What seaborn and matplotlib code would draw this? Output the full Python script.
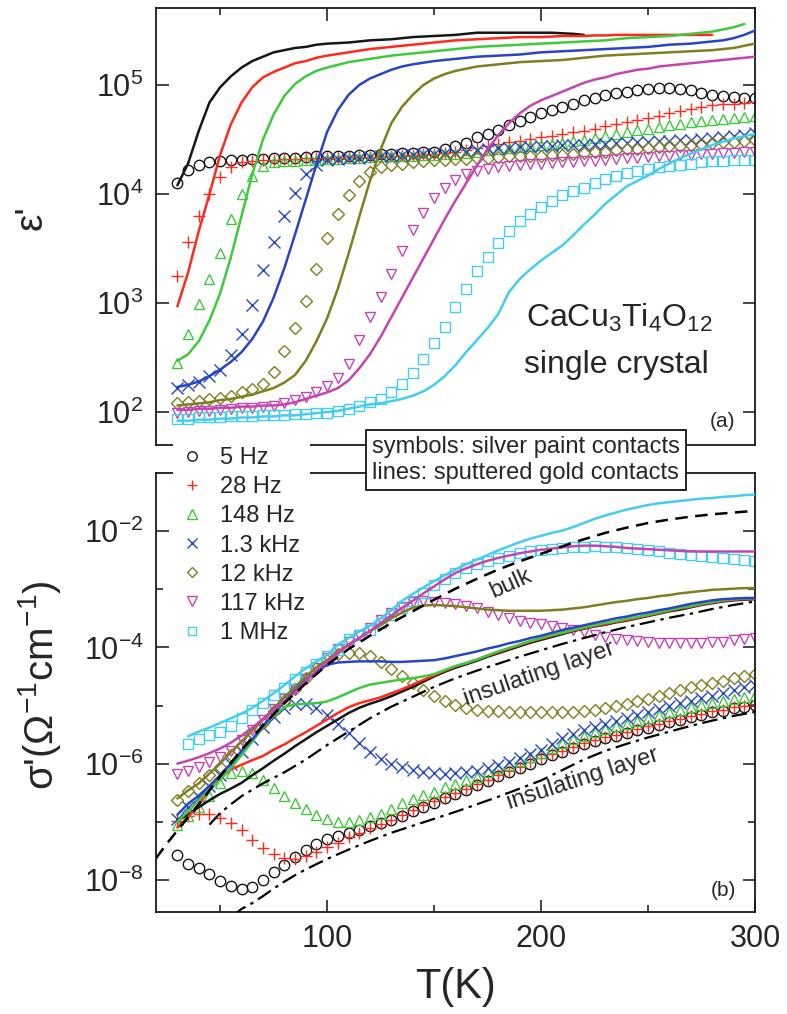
import numpy as np
import matplotlib
matplotlib.use("Agg")
import matplotlib.pyplot as plt
import seaborn as sns
from matplotlib.lines import Line2D
from matplotlib.ticker import FixedLocator, NullLocator, NullFormatter, LogFormatterMathtext

nan = np.nan

# --- temperatures (K) for all measured curves ---
temps = np.arange(30, 301, 5)

freq_labels = ["5 Hz", "28 Hz", "148 Hz", "1.3 kHz", "12 kHz", "117 kHz", "1 MHz"]

# --- panel (a): log10(eps'), lines = sputtered gold contacts ---
eps_line_5Hz = [4.08, 4.28, 4.58, 4.84, 4.98, 5.08, 5.16, 5.22, 5.26, 5.30, 5.32,
                5.34, 5.35, 5.37, 5.38, 5.385, 5.39, 5.40, 5.41, 5.415, 5.42, 5.43,
                5.44, 5.445, 5.45, 5.455, 5.46, 5.47, 5.48, 5.48, 5.48, 5.48, 5.48,
                5.48, 5.48, 5.48, 5.475, 5.47, 5.46, nan, nan, nan, nan, nan,
                nan, nan, nan, nan, nan, nan, nan, nan, nan, nan, nan]
eps_line_28Hz = [2.97, 3.28, 3.66, 4.00, 4.36, 4.64, 4.84, 4.98, 5.07, 5.12, 5.16,
                 5.20, 5.22, 5.25, 5.27, 5.285, 5.30, 5.315, 5.33, 5.34, 5.35, 5.36,
                 5.37, 5.38, 5.39, 5.40, 5.41, 5.415, 5.42, 5.425, 5.43, 5.435, 5.44,
                 5.44, 5.44, 5.445, 5.45, 5.45, 5.45, 5.455, 5.455, 5.46, 5.46, 5.46,
                 5.46, 5.46, 5.46, 5.46, 5.46, 5.46, 5.46, nan, nan, nan, nan]
eps_line_148Hz = [2.47, 2.53, 2.65, 2.84, 3.09, 3.42, 3.80, 4.18, 4.50, 4.73, 4.90,
                  5.01, 5.08, 5.13, 5.16, 5.185, 5.21, 5.225, 5.24, 5.255, 5.27, 5.28,
                  5.29, 5.30, 5.31, 5.32, 5.33, 5.34, 5.35, 5.355, 5.36, 5.365, 5.37,
                  5.375, 5.38, 5.385, 5.39, 5.395, 5.40, 5.405, 5.41, 5.42, 5.43, 5.435,
                  5.44, 5.445, 5.45, 5.46, 5.47, 5.48, 5.49, 5.51, 5.53, 5.56, nan]
eps_line_1k3 = [2.23, 2.25, 2.28, 2.33, 2.39, 2.46, 2.55, 2.67, 2.83, 3.05, 3.32,
                3.63, 3.95, 4.27, 4.57, 4.77, 4.91, 5.00, 5.06, 5.10, 5.14, 5.17,
                5.19, 5.205, 5.22, 5.23, 5.24, 5.25, 5.26, 5.265, 5.27, 5.275, 5.28,
                5.29, 5.30, 5.305, 5.31, 5.315, 5.32, 5.325, 5.33, 5.335, 5.34, 5.345,
                5.35, 5.36, 5.37, 5.375, 5.38, 5.39, 5.40, 5.41, 5.43, 5.46, 5.50]
eps_line_12k = [2.06, 2.07, 2.08, 2.09, 2.11, 2.12, 2.14, 2.16, 2.19, 2.22, 2.27,
                2.34, 2.47, 2.65, 2.86, 3.13, 3.45, 3.79, 4.12, 4.41, 4.65, 4.80,
                4.91, 5.00, 5.06, 5.10, 5.13, 5.15, 5.17, 5.18, 5.19, 5.20, 5.21,
                5.215, 5.22, 5.225, 5.23, 5.24, 5.25, 5.26, 5.27, 5.275, 5.28, 5.285,
                5.29, 5.295, 5.30, 5.305, 5.31, 5.315, 5.32, 5.33, 5.34, 5.36, 5.38]
eps_line_117k = [2.02, 2.02, 2.03, 2.03, 2.04, 2.04, 2.05, 2.05, 2.06, 2.06, 2.07,
                 2.09, 2.12, 2.15, 2.18, 2.22, 2.29, 2.40, 2.53, 2.69, 2.87, 3.05,
                 3.23, 3.41, 3.59, 3.77, 3.94, 4.10, 4.26, 4.41, 4.54, 4.65, 4.74,
                 4.81, 4.86, 4.90, 4.94, 4.98, 5.02, 5.05, 5.07, 5.10, 5.12, 5.14,
                 5.15, 5.17, 5.18, 5.19, 5.20, 5.21, 5.22, 5.23, 5.24, 5.25, 5.26]
eps_line_1M = [1.92, 1.92, 1.93, 1.93, 1.94, 1.94, 1.95, 1.95, 1.96, 1.96, 1.97,
               1.97, 1.98, 1.99, 2.00, 2.01, 2.03, 2.05, 2.07, 2.08, 2.10, 2.12,
               2.15, 2.19, 2.25, 2.33, 2.43, 2.55, 2.66, 2.77, 2.90, 3.10, 3.22,
               3.31, 3.39, 3.46, 3.53, 3.62, 3.72, 3.81, 3.91, 3.99, 4.07, 4.12,
               4.17, 4.23, 4.28, 4.33, 4.37, 4.41, 4.45, 4.48, 4.51, 4.53, 4.55]

# --- panel (a): log10(eps'), symbols = silver paint contacts ---
eps_sym_5Hz = [4.10, 4.22, 4.27, 4.29, 4.30, 4.31, 4.31, 4.32, 4.32, 4.33, 4.33,
               4.335, 4.34, 4.345, 4.35, 4.35, 4.35, 4.355, 4.36, 4.365, 4.37, 4.375,
               4.38, 4.385, 4.39, 4.41, 4.44, 4.47, 4.52, 4.55, 4.59, 4.63, 4.67,
               4.71, 4.74, 4.77, 4.80, 4.83, 4.86, 4.88, 4.91, 4.93, 4.94, 4.95,
               4.96, 4.97, 4.97, 4.96, 4.95, 4.93, 4.91, 4.90, 4.89, 4.88, 4.88]
eps_sym_28Hz = [3.25, 3.56, 3.80, 4.00, 4.16, 4.25, 4.29, 4.30, 4.31, 4.315, 4.32,
                4.325, 4.33, 4.33, 4.33, 4.335, 4.34, 4.34, 4.34, 4.345, 4.35, 4.355,
                4.36, 4.365, 4.37, 4.38, 4.39, 4.405, 4.42, 4.44, 4.46, 4.475, 4.49,
                4.505, 4.52, 4.535, 4.55, 4.565, 4.58, 4.60, 4.62, 4.64, 4.66, 4.68,
                4.70, 4.72, 4.74, 4.76, 4.78, 4.80, 4.82, 4.825, 4.83, 4.835, 4.84]
eps_sym_148Hz = [2.45, 2.72, 2.99, 3.22, 3.46, 3.77, 4.00, 4.17, 4.26, 4.29, 4.30,
                 4.305, 4.31, 4.315, 4.32, 4.325, 4.33, 4.335, 4.34, 4.345, 4.35, 4.35,
                 4.35, 4.355, 4.36, 4.365, 4.37, 4.38, 4.39, 4.40, 4.41, 4.42, 4.43,
                 4.44, 4.45, 4.46, 4.47, 4.485, 4.50, 4.515, 4.53, 4.55, 4.57, 4.585,
                 4.60, 4.615, 4.63, 4.645, 4.66, 4.67, 4.68, 4.69, 4.70, 4.71, 4.72]
eps_sym_1k3 = [2.22, 2.25, 2.28, 2.33, 2.39, 2.52, 2.72, 2.98, 3.30, 3.56, 3.80,
               4.01, 4.18, 4.27, 4.31, 4.32, 4.33, 4.335, 4.34, 4.345, 4.35, 4.355,
               4.36, 4.365, 4.37, 4.375, 4.38, 4.39, 4.40, 4.41, 4.42, 4.425, 4.43,
               4.435, 4.44, 4.445, 4.45, 4.45, 4.45, 4.455, 4.46, 4.465, 4.47, 4.475,
               4.48, 4.485, 4.49, 4.495, 4.50, 4.505, 4.51, 4.52, 4.53, 4.545, 4.56]
eps_sym_12k = [2.08, 2.09, 2.10, 2.12, 2.13, 2.15, 2.18, 2.21, 2.26, 2.37, 2.56,
               2.77, 3.02, 3.31, 3.60, 3.82, 3.99, 4.12, 4.20, 4.25, 4.27, 4.28,
               4.29, 4.30, 4.31, 4.315, 4.32, 4.325, 4.33, 4.335, 4.34, 4.345, 4.35,
               4.35, 4.35, 4.355, 4.36, 4.37, 4.38, 4.385, 4.39, 4.40, 4.41, 4.415,
               4.42, 4.43, 4.44, 4.445, 4.45, 4.46, 4.47, 4.475, 4.48, 4.49, 4.50]
eps_sym_117k = [1.99, 2.00, 2.01, 2.01, 2.02, 2.03, 2.04, 2.04, 2.05, 2.06, 2.08,
                2.11, 2.14, 2.18, 2.24, 2.31, 2.44, 2.66, 2.87, 3.06, 3.27, 3.48,
                3.67, 3.83, 3.96, 4.06, 4.13, 4.18, 4.21, 4.23, 4.25, 4.26, 4.27,
                4.275, 4.28, 4.285, 4.29, 4.295, 4.30, 4.305, 4.31, 4.32, 4.33, 4.335,
                4.34, 4.345, 4.35, 4.355, 4.36, 4.365, 4.37, 4.375, 4.38, 4.385, 4.39]
eps_sym_1M = [1.94, 1.94, 1.95, 1.95, 1.95, 1.96, 1.96, 1.96, 1.97, 1.97, 1.97,
              1.98, 1.98, 1.99, 1.99, 2.01, 2.03, 2.06, 2.09, 2.12, 2.18, 2.26,
              2.36, 2.49, 2.63, 2.78, 2.96, 3.13, 3.29, 3.42, 3.55, 3.66, 3.75,
              3.82, 3.88, 3.94, 3.99, 4.03, 4.06, 4.10, 4.14, 4.17, 4.19, 4.21,
              4.23, 4.245, 4.26, 4.27, 4.28, 4.29, 4.30, 4.305, 4.31, 4.31, 4.31]

# --- panel (b): log10(sigma'), lines ---
sig_line_5Hz = [-6.98, -6.88, -6.75, -6.63, -6.52, -6.43, -6.33, -6.20, -6.08, -5.95, -5.83,
                -5.70, -5.58, -5.46, -5.35, -5.24, -5.13, -5.04, -4.97, -4.91, -4.84, -4.76,
                -4.68, -4.59, -4.50, -4.42, -4.35, -4.29, -4.23, -4.16, -4.10, -4.04, -3.98,
                -3.92, -3.87, -3.82, -3.77, -3.72, -3.68, -3.64, -3.61, -3.57, -3.54, -3.50,
                -3.46, -3.42, -3.38, -3.35, -3.31, -3.27, -3.24, -3.21, -3.19, -3.18, -3.17]
sig_line_28Hz = [-7.10, -6.92, -6.70, -6.45, -6.25, -6.10, -6.02, -5.94, -5.87, -5.76, -5.67,
                 -5.56, -5.46, -5.35, -5.24, -5.13, -5.03, -4.96, -4.91, -4.86, -4.79, -4.72,
                 -4.64, -4.56, -4.48, -4.40, -4.33, -4.27, -4.21, -4.14, -4.08, -4.02, -3.96,
                 -3.90, -3.85, -3.80, -3.75, -3.71, -3.67, -3.63, -3.60, -3.56, -3.53, -3.49,
                 -3.45, -3.41, -3.37, -3.33, -3.30, -3.26, -3.23, -3.20, -3.18, -3.17, -3.16]
sig_line_148Hz = [-7.00, -6.82, -6.63, -6.45, -6.28, -6.08, -5.85, -5.62, -5.38, -5.17, -5.03,
                  -4.98, -4.97, -4.96, -4.93, -4.86, -4.78, -4.70, -4.64, -4.61, -4.58, -4.55,
                  -4.53, -4.50, -4.46, -4.39, -4.32, -4.27, -4.21, -4.14, -4.07, -4.01, -3.95,
                  -3.89, -3.84, -3.79, -3.75, -3.70, -3.66, -3.62, -3.58, -3.55, -3.51, -3.48,
                  -3.44, -3.40, -3.36, -3.32, -3.29, -3.25, -3.22, -3.19, -3.17, -3.16, -3.15]
sig_line_1k3 = [-6.88, -6.69, -6.55, -6.38, -6.20, -6.00, -5.78, -5.58, -5.36, -5.15, -4.93,
                -4.74, -4.56, -4.42, -4.30, -4.26, -4.25, -4.24, -4.24, -4.24, -4.25, -4.25,
                -4.24, -4.23, -4.22, -4.19, -4.15, -4.11, -4.07, -4.02, -3.98, -3.93, -3.89,
                -3.84, -3.80, -3.75, -3.70, -3.66, -3.62, -3.58, -3.54, -3.50, -3.47, -3.43,
                -3.40, -3.36, -3.33, -3.29, -3.25, -3.22, -3.19, -3.17, -3.16, -3.15, -3.15]
sig_line_12k = [-6.60, -6.46, -6.34, -6.17, -6.00, -5.80, -5.62, -5.43, -5.24, -5.05, -4.86,
                -4.68, -4.50, -4.34, -4.22, -4.08, -3.95, -3.84, -3.72, -3.62, -3.50, -3.40,
                -3.32, -3.28, -3.27, -3.28, -3.29, -3.31, -3.33, -3.35, -3.36, -3.37, -3.37,
                -3.37, -3.37, -3.36, -3.35, -3.33, -3.31, -3.28, -3.25, -3.22, -3.20, -3.17,
                -3.15, -3.12, -3.10, -3.07, -3.05, -3.03, -3.01, -3.00, -2.99, -2.98, -2.98]
sig_line_117k = [-6.00, -5.95, -5.89, -5.82, -5.74, -5.64, -5.52, -5.38, -5.24, -5.08, -4.93,
                 -4.77, -4.58, -4.40, -4.25, -4.10, -3.96, -3.84, -3.72, -3.58, -3.45, -3.32,
                 -3.20, -3.07, -2.95, -2.83, -2.72, -2.64, -2.57, -2.51, -2.46, -2.42, -2.38,
                 -2.35, -2.32, -2.30, -2.28, -2.26, -2.25, -2.25, -2.26, -2.27, -2.29, -2.30,
                 -2.31, -2.32, -2.33, -2.34, -2.35, -2.35, -2.35, -2.35, -2.35, -2.35, -2.35]
sig_line_1M = [nan, -5.53, -5.45, -5.38, -5.30, -5.22, -5.14, -5.04, -4.92, -4.79, -4.65,
               -4.50, -4.36, -4.24, -4.13, -3.95, -3.84, -3.73, -3.63, -3.50, -3.36, -3.20,
               -3.08, -2.97, -2.86, -2.76, -2.66, -2.57, -2.49, -2.41, -2.33, -2.26, -2.19,
               -2.13, -2.08, -2.03, -1.99, -1.93, -1.86, -1.79, -1.73, -1.68, -1.63, -1.59,
               -1.55, -1.52, -1.50, -1.48, -1.46, -1.44, -1.43, -1.41, -1.40, -1.38, -1.37]

# --- panel (b): log10(sigma'), symbols ---
sig_sym_5Hz = [-7.58, -7.72, -7.80, -7.90, -8.02, -8.10, -8.16, -8.12, -8.00, -7.87, -7.74,
               -7.61, -7.49, -7.38, -7.29, -7.24, -7.20, -7.15, -7.08, -7.02, -6.97, -6.90,
               -6.82, -6.75, -6.67, -6.60, -6.52, -6.45, -6.37, -6.30, -6.22, -6.15, -6.07,
               -6.00, -5.92, -5.86, -5.80, -5.73, -5.66, -5.61, -5.56, -5.52, -5.47, -5.43,
               -5.38, -5.34, -5.29, -5.25, -5.20, -5.16, -5.12, -5.09, -5.05, -5.02, -4.99]
sig_sym_28Hz = [-6.98, -6.90, -6.86, -6.87, -6.93, -7.02, -7.14, -7.31, -7.45, -7.56, -7.62,
                -7.64, -7.59, -7.52, -7.44, -7.36, -7.27, -7.19, -7.11, -7.04, -6.97, -6.89,
                -6.80, -6.72, -6.65, -6.58, -6.50, -6.43, -6.35, -6.28, -6.20, -6.13, -6.05,
                -5.98, -5.90, -5.84, -5.78, -5.71, -5.64, -5.59, -5.54, -5.50, -5.45, -5.41,
                -5.36, -5.32, -5.27, -5.23, -5.18, -5.14, -5.10, -5.07, -5.03, -5.00, -4.97]
sig_sym_148Hz = [-7.06, -6.90, -6.75, -6.55, -6.33, -6.16, -6.12, -6.16, -6.28, -6.42, -6.56,
                 -6.67, -6.78, -6.88, -6.95, -7.00, -7.00, -6.97, -6.92, -6.86, -6.78, -6.68,
                 -6.61, -6.54, -6.48, -6.41, -6.35, -6.29, -6.23, -6.15, -6.08, -6.02, -5.95,
                 -5.88, -5.81, -5.73, -5.65, -5.58, -5.52, -5.46, -5.40, -5.35, -5.31, -5.26,
                 -5.21, -5.17, -5.12, -5.08, -5.03, -4.99, -4.96, -4.92, -4.89, -4.85, -4.82]
sig_sym_1k3 = [-6.95, -6.75, -6.57, -6.38, -6.20, -6.00, -5.80, -5.57, -5.37, -5.19, -5.05,
               -4.97, -4.98, -5.05, -5.17, -5.32, -5.48, -5.64, -5.80, -5.92, -6.00, -6.06,
               -6.11, -6.14, -6.16, -6.17, -6.16, -6.14, -6.12, -6.08, -6.03, -5.97, -5.91,
               -5.84, -5.76, -5.66, -5.56, -5.49, -5.42, -5.37, -5.32, -5.27, -5.22, -5.17,
               -5.11, -5.06, -5.01, -4.96, -4.92, -4.87, -4.83, -4.78, -4.73, -4.69, -4.65]
sig_sym_12k = [-6.62, -6.47, -6.34, -6.20, -6.05, -5.85, -5.68, -5.48, -5.30, -5.10, -4.92,
               -4.72, -4.52, -4.36, -4.22, -4.12, -4.09, -4.10, -4.15, -4.25, -4.38, -4.50,
               -4.62, -4.73, -4.83, -4.93, -4.99, -5.04, -5.07, -5.09, -5.10, -5.11, -5.11,
               -5.11, -5.11, -5.12, -5.12, -5.11, -5.10, -5.07, -5.04, -5.01, -4.97, -4.93,
               -4.88, -4.84, -4.79, -4.74, -4.69, -4.65, -4.61, -4.57, -4.53, -4.49, -4.45]
sig_sym_117k = [-6.17, -6.12, -6.06, -5.98, -5.89, -5.78, -5.60, -5.42, -5.25, -5.06, -4.88,
                -4.72, -4.55, -4.35, -4.18, -4.03, -3.90, -3.78, -3.66, -3.53, -3.40, -3.30,
                -3.22, -3.20, -3.22, -3.24, -3.26, -3.29, -3.33, -3.39, -3.45, -3.50, -3.55,
                -3.58, -3.60, -3.63, -3.66, -3.70, -3.74, -3.78, -3.82, -3.85, -3.87, -3.89,
                -3.91, -3.92, -3.93, -3.93, -3.93, -3.92, -3.91, -3.90, -3.88, -3.86, -3.84]
sig_sym_1M = [nan, -5.66, -5.58, -5.51, -5.45, -5.35, -5.22, -5.08, -4.95, -4.82, -4.70,
              -4.55, -4.42, -4.28, -4.15, -4.05, -3.86, -3.78, -3.70, -3.58, -3.45, -3.33,
              -3.20, -3.06, -2.93, -2.82, -2.72, -2.64, -2.57, -2.51, -2.46, -2.42, -2.38,
              -2.35, -2.32, -2.30, -2.29, -2.28, -2.27, -2.26, -2.27, -2.28, -2.29, -2.31,
              -2.33, -2.35, -2.37, -2.39, -2.41, -2.43, -2.44, -2.46, -2.48, -2.50, -2.52]

# --- reference curves in panel (b) ---
bulk_T = [20, 25, 30, 40, 50, 60, 70, 80, 90, 100, 110, 120, 130, 140, 150, 160, 170,
          180, 190, 200, 210, 220, 230, 240, 250, 260, 270, 280, 290, 300]
bulk_sig = [-7.63, -7.38, -7.15, -6.70, -6.22, -5.76, -5.34, -4.96, -4.62, -4.30, -4.03,
            -3.80, -3.58, -3.38, -3.18, -2.99, -2.82, -2.66, -2.52, -2.39, -2.26, -2.14,
            -2.03, -1.94, -1.86, -1.80, -1.75, -1.71, -1.68, -1.65]
layer1_T = [45, 50, 55, 60, 70, 80, 90, 100, 110, 120, 130, 140, 150, 160, 170, 180,
            190, 200, 210, 220, 230, 240, 250, 260, 270, 280, 290, 300]
layer1_sig = [-7.05, -6.85, -6.70, -6.56, -6.34, -6.15, -5.93, -5.68, -5.45, -5.22, -5.02,
              -4.85, -4.68, -4.53, -4.40, -4.28, -4.16, -4.05, -3.94, -3.84, -3.74, -3.65,
              -3.57, -3.49, -3.42, -3.34, -3.27, -3.21]
layer2_T = [56, 60, 65, 70, 75, 80, 85, 90, 95, 100, 110, 120, 130, 140, 150, 160, 170,
            180, 190, 200, 210, 220, 230, 240, 250, 260, 270, 280, 290, 300]
layer2_sig = [-8.62, -8.50, -8.40, -8.28, -8.15, -8.03, -7.92, -7.82, -7.73, -7.64, -7.48,
              -7.33, -7.19, -7.07, -6.95, -6.83, -6.70, -6.57, -6.43, -6.29, -6.11, -5.93,
              -5.78, -5.66, -5.55, -5.45, -5.35, -5.26, -5.18, -5.11]

eps_lines = [eps_line_5Hz, eps_line_28Hz, eps_line_148Hz, eps_line_1k3, eps_line_12k, eps_line_117k, eps_line_1M]
eps_syms = [eps_sym_5Hz, eps_sym_28Hz, eps_sym_148Hz, eps_sym_1k3, eps_sym_12k, eps_sym_117k, eps_sym_1M]
sig_lines = [sig_line_5Hz, sig_line_28Hz, sig_line_148Hz, sig_line_1k3, sig_line_12k, sig_line_117k, sig_line_1M]
sig_syms = [sig_sym_5Hz, sig_sym_28Hz, sig_sym_148Hz, sig_sym_1k3, sig_sym_12k, sig_sym_117k, sig_sym_1M]

colors = ["#161616", "#ff2a1c", "#3fc93c", "#2846c4", "#7f7f20", "#c444b2", "#44cdee"]
markers = ["o", "+", "^", "x", "D", "v", "s"]
msizes = [7.5, 8.5, 7.5, 8, 6, 7.5, 6.5]

sns.set_theme(style="ticks")
plt.rcParams["font.family"] = ["Liberation Sans", "DejaVu Sans"]
plt.rcParams["mathtext.fontset"] = "custom"
plt.rcParams["mathtext.rm"] = "Liberation Sans"
plt.rcParams["mathtext.it"] = "Liberation Sans:italic"
plt.rcParams["mathtext.bf"] = "Liberation Sans:bold"

fig = plt.figure(figsize=(7.87, 10.14), dpi=100)
ax1 = fig.add_axes([0.1982, 0.5611, 0.7611, 0.4310])
ax2 = fig.add_axes([0.1982, 0.1006, 0.7611, 0.4329])
for ax in (ax1, ax2):
    ax.set_yscale("log")


def draw_symbols(ax, vals, color, marker, ms):
    open_marker = marker not in ("+", "x")
    sns.lineplot(x=temps, y=np.power(10.0, np.asarray(vals, dtype=float)), ax=ax,
                 estimator=None, sort=False, linestyle="", marker=marker, markersize=ms,
                 markerfacecolor="none" if open_marker else color, markeredgecolor=color,
                 markeredgewidth=1.0, color=color, zorder=2)


def draw_line(ax, vals, color):
    sns.lineplot(x=temps, y=np.power(10.0, np.asarray(vals, dtype=float)), ax=ax,
                 estimator=None, sort=False, color=color, linewidth=1.8, zorder=3)


for i in range(7):
    draw_symbols(ax1, eps_syms[i], colors[i], markers[i], msizes[i])
    draw_symbols(ax2, sig_syms[i], colors[i], markers[i], msizes[i])
for i in range(7):
    draw_line(ax1, eps_lines[i], colors[i])
    draw_line(ax2, sig_lines[i], colors[i])

sns.lineplot(x=bulk_T, y=np.power(10.0, bulk_sig), ax=ax2, estimator=None, sort=False,
             color="black", linewidth=1.8, linestyle=(0, (5, 3)), zorder=4)
for lt, ls in ((layer1_T, layer1_sig), (layer2_T, layer2_sig)):
    sns.lineplot(x=lt, y=np.power(10.0, ls), ax=ax2, estimator=None, sort=False,
                 color="black", linewidth=1.6, linestyle=(0, (7, 2.5, 1.5, 2.5)), zorder=4)

# axes limits and ticks
ax1.set_ylim(49.8, 5.09e5)
ax2.set_ylim(2.8e-9, 1e-1)
for ax in (ax1, ax2):
    ax.set_xlim(20, 300)
    ax.xaxis.set_major_locator(FixedLocator([100, 200, 300]))
    ax.xaxis.set_minor_locator(FixedLocator([50, 150, 250]))
    ax.set_xlabel("")
    ax.set_ylabel("")
    for sp in ax.spines.values():
        sp.set_linewidth(1.3)
        sp.set_color("#1a1a1a")

ax1.yaxis.set_major_locator(FixedLocator([1e2, 1e3, 1e4, 1e5]))
ax1.yaxis.set_minor_locator(NullLocator())
ax1.yaxis.set_major_formatter(LogFormatterMathtext())
ax2.yaxis.set_major_locator(FixedLocator([1e-8, 1e-6, 1e-4, 1e-2]))
ax2.yaxis.set_minor_locator(FixedLocator([1e-7, 1e-5, 1e-3]))
ax2.yaxis.set_major_formatter(LogFormatterMathtext())
ax2.yaxis.set_minor_formatter(NullFormatter())

ax1.tick_params(axis="both", which="both", direction="in", top=True, bottom=False,
                right=True, left=True, labelbottom=False, labelsize=22, pad=9, width=1.2)
ax2.tick_params(axis="both", which="both", direction="in", top=False, bottom=True,
                right=True, left=True, labelsize=22, pad=9, width=1.2)
for ax in (ax1, ax2):
    ax.tick_params(which="major", length=9)
    ax.tick_params(which="minor", length=5)

ax1.set_ylabel("\u03b5'", fontsize=28)
ax1.yaxis.set_label_coords(-0.178, 0.52)
ax2.set_ylabel("\u03c3'(\u03a9$^{-1}$cm$^{-1}$)", fontsize=29)
ax2.yaxis.set_label_coords(-0.155, 0.517)
ax2.set_xlabel("T(K)", fontsize=30)
ax2.xaxis.set_label_coords(0.5, -0.125)

# panel texts
ax1.text(0.773, 0.29, "CaCu$_3$Ti$_4$O$_{12}$", transform=ax1.transAxes, ha="center",
         va="center", fontsize=23)
ax1.text(0.768, 0.183, "single crystal", transform=ax1.transAxes, ha="center",
         va="center", fontsize=23)
ax1.text(0.945, 0.053, "(a)", transform=ax1.transAxes, ha="center", va="center", fontsize=15)
ax2.text(0.947, 0.05, "(b)", transform=ax2.transAxes, ha="center", va="center", fontsize=15)

ax2.text(186, 10 ** -2.90, "bulk", rotation=24, ha="center", va="center", fontsize=17)
ax2.text(199, 10 ** -4.45, "insulating layer", rotation=19, ha="center", va="center", fontsize=17)
ax2.text(219.5, 10 ** -6.26, "insulating layer", rotation=18, ha="center", va="center", fontsize=17)

# legend of symbols (spans the gap between panels)
handles = [Line2D([], [], linestyle="", marker=markers[i], markersize=msizes[i] * 0.9,
                  markerfacecolor="none" if markers[i] not in ("+", "x") else colors[i],
                  markeredgecolor=colors[i], markeredgewidth=1.0)
           for i in range(7)]
fig.legend(handles, freq_labels, loc="upper left", bbox_to_anchor=(0.2198, 0.5635),
           bbox_transform=fig.transFigure, fontsize=17, frameon=True, facecolor="white",
           edgecolor="none", framealpha=1.0, fancybox=False, borderpad=0.2,
           borderaxespad=0.0, handlelength=1.2, handletextpad=0.6, labelspacing=0.3)

fig.text(372 / 787, 1 - 460 / 1014, "symbols: silver paint contacts\nlines: sputtered gold contacts",
         ha="left", va="center", fontsize=17, linespacing=1.2,
         bbox=dict(boxstyle="square,pad=0.25", facecolor="white", edgecolor="black", linewidth=1.2))

fig.savefig("out.png", dpi=100)
